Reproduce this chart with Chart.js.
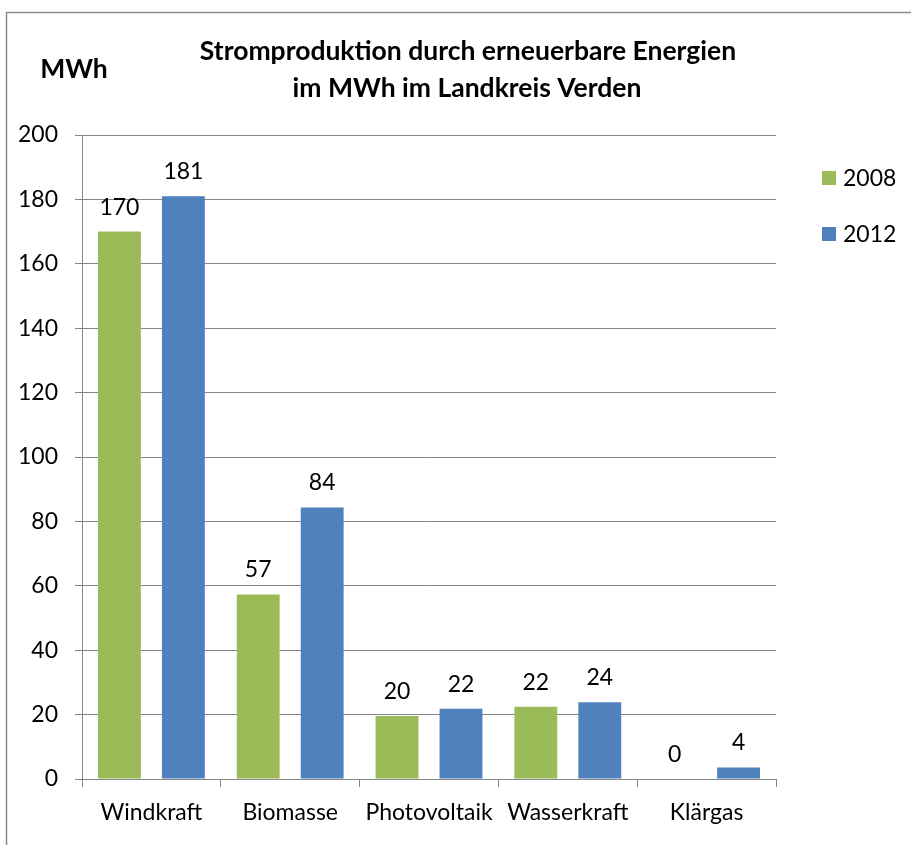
<!DOCTYPE html>
<html><head><meta charset="utf-8">
<script src="https://cdn.jsdelivr.net/npm/chart.js@4/dist/chart.umd.min.js"></script>
<style>html,body{margin:0;padding:0;background:#fff}#c{display:block}</style>
</head><body>
<div style="width:911px;height:845px"><canvas id="c" width="911" height="845"></canvas></div>
<script>
const categories = ["Windkraft", "Biomasse", "Photovoltaik", "Wasserkraft", "Klärgas"];
const values2008 = [170, 57.3, 19.6, 22.4, 0];
const values2012 = [181, 84.3, 21.8, 23.8, 3.6];
const seriesNames = ["2008", "2012"];
const yTicks = [0, 20, 40, 60, 80, 100, 120, 140, 160, 180, 200];
const titleLines = ["Stromproduktion durch erneuerbare Energien", "im MWh im Landkreis Verden"];
const unitLabel = "MWh";

const FONT = "Lato, 'Open Sans', sans-serif";
const GRID = "#868686";

const decor = {
  id: 'decor',
  afterDraw(chart) {
    const ctx = chart.ctx;
    ctx.save();
    // outer border
    ctx.strokeStyle = "#8c8c8c";
    ctx.lineWidth = 1.5;
    ctx.strokeRect(6.5, 12.5, 1000, 1000);
    // title
    ctx.fillStyle = "#000";
    ctx.textAlign = "center";
    ctx.textBaseline = "middle";
    ctx.font = "bold 26.5px " + FONT;
    ctx.fillText(titleLines[0], 468, 51);
    ctx.fillText(titleLines[1], 467, 88);
    ctx.fillText(unitLabel, 74, 69);
    // data labels
    ctx.font = "23px " + FONT;
    ctx.textBaseline = "bottom";
    chart.data.datasets.forEach((ds, i) => {
      const meta = chart.getDatasetMeta(i);
      meta.data.forEach((bar, j) => {
        ctx.fillText(String(Math.round(ds.data[j])), bar.x, bar.y - 13);
      });
    });
    // legend
    ctx.textAlign = "left";
    ctx.textBaseline = "middle";
    const ly = [178, 234];
    chart.data.datasets.forEach((ds, i) => {
      ctx.fillStyle = ds.backgroundColor;
      ctx.fillRect(822, ly[i] - 7, 14, 14);
      ctx.fillStyle = "#000";
      ctx.fillText(ds.label, 843, ly[i] + 1);
    });
    ctx.restore();
  }
};

new Chart(document.getElementById('c'), {
  type: 'bar',
  data: {
    labels: categories,
    datasets: [
      { label: seriesNames[0], data: values2008, backgroundColor: "#9BBB59", categoryPercentage: 0.922, barPercentage: 0.67 },
      { label: seriesNames[1], data: values2012, backgroundColor: "#4F81BD", categoryPercentage: 0.922, barPercentage: 0.67 }
    ]
  },
  options: {
    responsive: false,
    animation: false,
    layout: { padding: { left: 0, right: 135, top: 135, bottom: 0 } },
    plugins: { legend: { display: false }, title: { display: false }, tooltip: { enabled: false } },
    scales: {
      x: {
        afterFit(s) { s.height = 66; },
        grid: { offset: true, drawOnChartArea: false, tickLength: 8, color: GRID },
        border: { color: GRID, width: 1 },
        ticks: { color: "#000", font: { family: FONT, size: 23 }, padding: 12, maxRotation: 0, autoSkip: false }
      },
      y: {
        min: 0, max: 200,
        afterFit(s) { s.width = 82; },
        afterBuildTicks(s) { s.ticks = yTicks.map(v => ({ value: v })); },
        grid: { color: GRID, tickLength: 7 },
        border: { color: GRID, width: 1 },
        ticks: { color: "#000", font: { family: FONT, size: 23 }, padding: 17 }
      }
    }
  },
  plugins: [decor]
});
</script>
</body></html>
